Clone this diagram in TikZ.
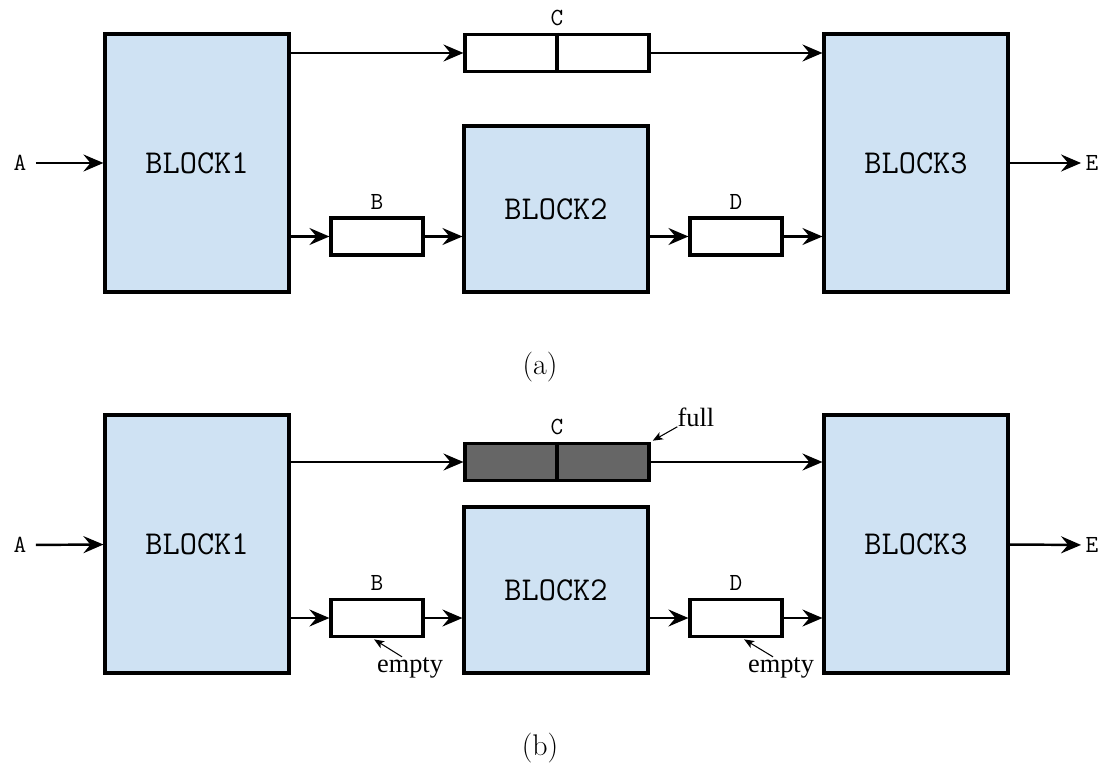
\documentclass[tikz,border=0pt]{standalone}
\usepackage{fontspec}
\newfontfamily\notefont{Liberation Serif}
\usetikzlibrary{arrows.meta, positioning}
\definecolor{blkfill}{RGB}{207, 226, 243}
\definecolor{fullfill}{RGB}{102, 102, 102}

\begin{document}
\begin{tikzpicture}[x=0.02cm, y=-0.02cm,
        blk/.style={rectangle, draw, line width=1.8pt, fill=blkfill, minimum width=3.68cm, minimum height=5.16cm, inner sep=0pt, font=\ttfamily\fontsize{19}{22}\selectfont},
        blkmid/.style={blk, minimum height=3.32cm},
        fifo/.style={rectangle, draw, line width=1.8pt, fill=white, minimum width=1.84cm, minimum height=0.74cm, inner sep=0pt},
        fifowide/.style={fifo, minimum width=3.68cm},
        conn/.style={-{Stealth[length=4mm, width=3.4mm, inset=1.4mm]}, line width=1.4pt},
        note/.style={-{Stealth[length=2mm, width=1.6mm, inset=0.5mm]}, line width=0.6pt},
        lbl/.style={font=\ttfamily\fontsize{14}{16}\selectfont, inner sep=1pt},
        ntxt/.style={font=\notefont\fontsize{15}{17}\selectfont, inner sep=0pt},
        subcap/.style={font=\fontsize{17}{20}\selectfont}
      ]
        \useasboundingbox (0,0) rectangle (1105,763);

        % (a)
        \node[blk] (blk1a) at (197,163) {BLOCK1};
        \node[blkmid] (blk2a) at (556,209) {BLOCK2};
        \node[blk] (blk3a) at (916,163) {BLOCK3};
        \node[fifowide] (fifoCa) at (557,53) {};
        \draw[line width=1.8pt] (fifoCa.north) -- (fifoCa.south);
        \node[fifo] (fifoBa) at (377,236.5) {};
        \node[fifo] (fifoDa) at (736,236.5) {};
        \node[lbl, above=1mm of fifoCa] (labCa) {C};
        \node[lbl, above=1mm of fifoBa] (labBa) {B};
        \node[lbl, above=1mm of fifoDa] (labDa) {D};
        \node[lbl] (inAa) at (20,163) {A};
        \node[lbl] (outEa) at (1092,163) {E};
        \draw[conn, shorten <=1.5mm] (inAa) -- (blk1a);
        \draw[conn] (blk1a.east |- fifoCa) -- (fifoCa);
        \draw[conn] (fifoCa) -- (blk3a.west |- fifoCa);
        \draw[conn] (blk1a.east |- fifoBa) -- (fifoBa);
        \draw[conn] (fifoBa) -- (blk2a.west |- fifoBa);
        \draw[conn] (blk2a.east |- fifoDa) -- (fifoDa);
        \draw[conn] (fifoDa) -- (blk3a.west |- fifoDa);
        \draw[conn, shorten >=0.5mm] (blk3a) -- (outEa);
        \node[subcap] (capa) at (540,367) {(a)};

        % (b)
        \node[blk] (blk1b) at (197,544) {BLOCK1};
        \node[blkmid] (blk2b) at (556,590) {BLOCK2};
        \node[blk] (blk3b) at (916,544) {BLOCK3};
        \node[fifowide, fill=fullfill] (fifoCb) at (557,462) {};
        \draw[line width=1.8pt] (fifoCb.north) -- (fifoCb.south);
        \node[fifo] (fifoBb) at (377,618) {};
        \node[fifo] (fifoDb) at (736,618) {};
        \node[lbl, above=1mm of fifoCb] (labCb) {C};
        \node[lbl, above=1mm of fifoBb] (labBb) {B};
        \node[lbl, above=1mm of fifoDb] (labDb) {D};
        \node[lbl] (inAb) at (20,545) {A};
        \node[lbl] (outEb) at (1092,545) {E};
        \draw[conn, shorten <=1.5mm] (inAb) -- (blk1b);
        \draw[conn] (blk1b.east |- fifoCb) -- (fifoCb);
        \draw[conn] (fifoCb) -- (blk3b.west |- fifoCb);
        \draw[conn] (blk1b.east |- fifoBb) -- (fifoBb);
        \draw[conn] (fifoBb) -- (blk2b.west |- fifoBb);
        \draw[conn] (blk2b.east |- fifoDb) -- (fifoDb);
        \draw[conn] (fifoDb) -- (blk3b.west |- fifoDb);
        \draw[conn, shorten >=0.5mm] (blk3b) -- (outEb);
        \node[ntxt] (fullC) at (696,417) {full};
        \node[ntxt, anchor=base] (emptyB) at (410,672) {empty};
        \node[ntxt, anchor=base] (emptyD) at (781,672) {empty};
        \draw[note, shorten >=0.5mm] (fullC.south west) -- (fifoCb.north east);
        \draw[note, shorten >=0.5mm] ([xshift=-1.6mm]emptyB.north) -- ([xshift=-1mm]fifoBb.south);
        \draw[note, shorten >=0.5mm] ([xshift=-1.6mm]emptyD.north) -- ([xshift=1.2mm]fifoDb.south);
        \node[subcap] (capb) at (540,748) {(b)};
      \end{tikzpicture}
\end{document}
